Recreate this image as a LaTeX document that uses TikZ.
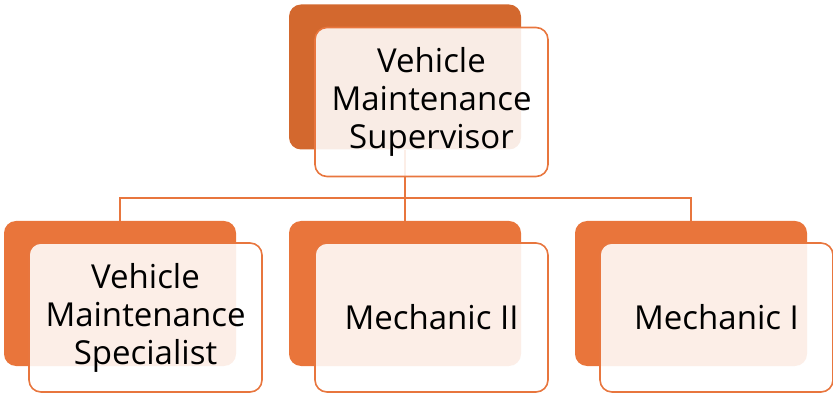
\documentclass[tikz,border=0pt]{standalone}
\usepackage{fontspec}
\setmainfont{Open Sans}
\definecolor{darkor}{RGB}{211,104,46}
\definecolor{brightor}{RGB}{233,117,59}
\definecolor{lineor}{RGB}{232,118,62}
\begin{document}
\begin{tikzpicture}[x=0.5pt,y=-0.5pt,
  backbox/.style={rectangle,rounded corners=6pt,minimum width=116pt,minimum height=72.5pt,inner sep=0pt},
  frontbox/.style={rectangle,rounded corners=6pt,draw=lineor,line width=0.8pt,fill=white,fill opacity=0.88,text opacity=1,
    minimum width=116.5pt,minimum height=74.5pt,inner sep=0pt,align=center,text=black,
    font=\fontsize{16.5}{19}\selectfont},
  conn/.style={draw=lineor,line width=1pt}]
\useasboundingbox (0,0) rectangle (833,394);
% back boxes
\node[backbox,fill=darkor] (tb) at (405,77) {};
\node[backbox,fill=brightor] (lb) at (120,293.5) {};
\node[backbox,fill=brightor] (mb) at (405,293.5) {};
\node[backbox,fill=brightor] (rb) at (691,293.5) {};
% connectors
\draw[conn] (tb.south) -- (405,198) coordinate (hub);
\draw[conn] (hub) -| (lb.north);
\draw[conn] (hub) -- (mb.north);
\draw[conn] (hub) -| (rb.north);
% front boxes
\node[frontbox] (tf) at (431.5,102) {Vehicle\\Maintenance\\Supervisor};
\node[frontbox] (lf) at (145.5,317.5) {Vehicle\\Maintenance\\Specialist};
\node[frontbox] (mf) at (431.5,317.5) {Mechanic II};
\node[frontbox] (rf) at (716.5,317.5) {Mechanic I};
\end{tikzpicture}
\end{document}
